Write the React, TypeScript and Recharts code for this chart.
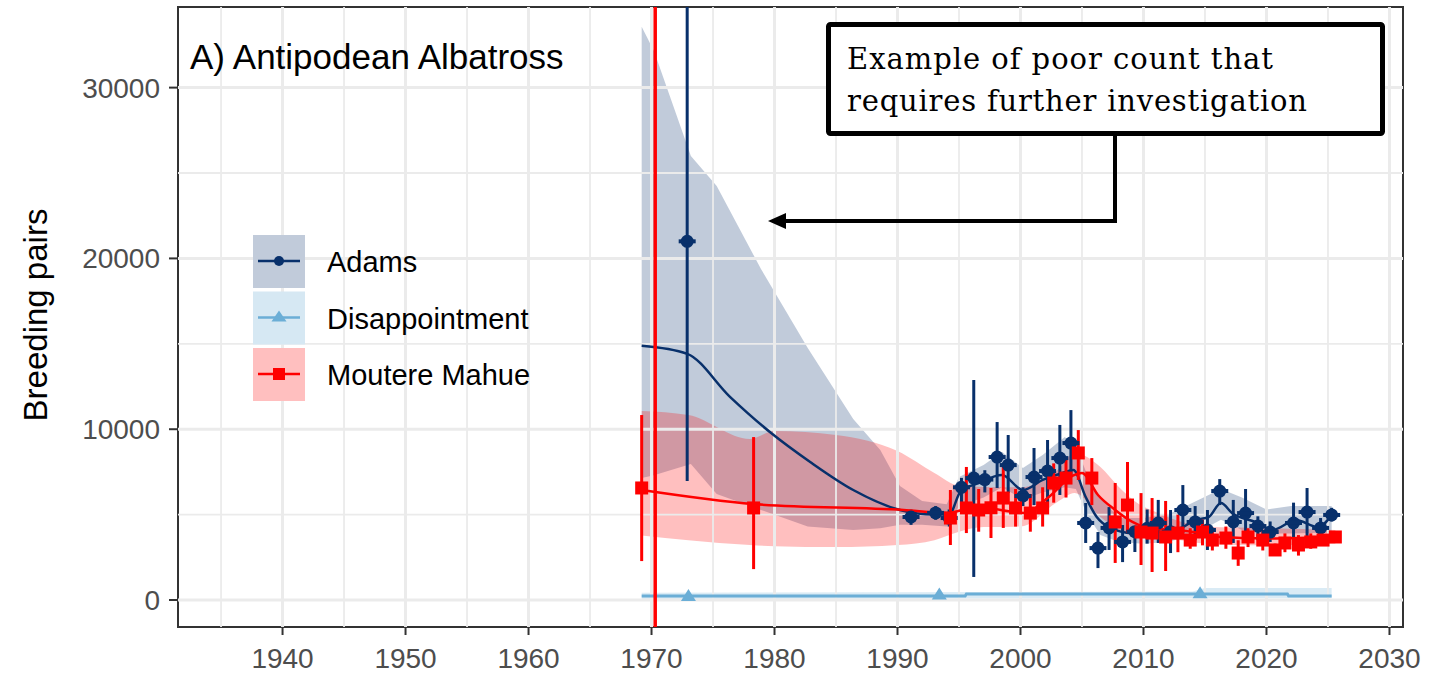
import React from 'react';
import {
  ComposedChart, Area, Line, Scatter, ErrorBar, XAxis, YAxis, ReferenceLine, ReferenceArea,
} from 'recharts';

const NAVY = '#08306b';
const SKY = '#6baed6';
const RED = '#ff0000';

const X_DOMAIN = [1931.5, 2031.1];
const Y_DOMAIN = [-1580, 34720];
const xTicks = [1940, 1950, 1960, 1970, 1980, 1990, 2000, 2010, 2020, 2030];
const xMinor = [1935, 1945, 1955, 1965, 1975, 1985, 1995, 2005, 2015, 2025];
const yTicks = [0, 10000, 20000, 30000];
const yMinor = [5000, 15000, 25000];

// Adams counts (point, lower, upper)
const adamsYears = [1972.9, 1991.1, 1993.1, 1994.2, 1995.2, 1996.2, 1997.1, 1998.1, 1999.0, 2000.2, 2001.1, 2002.2, 2003.2, 2004.1, 2005.3, 2006.3, 2007.2, 2008.3, 2009.3, 2010.3, 2011.2, 2012.2, 2013.2, 2014.2, 2015.2, 2016.2, 2017.3, 2018.3, 2019.3, 2020.3, 2022.2, 2023.3, 2024.4, 2025.3];
const adamsCount = [21000, 4860, 5100, 4800, 6600, 7140, 7050, 8370, 7900, 6090, 7200, 7550, 8310, 9190, 4510, 3040, 4220, 3400, 4000, 4200, 4510, 4000, 5270, 4570, 4100, 6380, 4570, 5090, 4330, 3980, 4510, 5150, 4220, 4980];
const adamsLow = [6970, 4400, 4700, 4300, 5700, 1350, 6300, 6560, 6260, 5500, 5560, 5740, 6150, 7200, 3340, 1870, 2930, 2220, 2810, 3300, 3340, 2750, 3920, 3500, 2930, 5560, 3340, 3510, 3500, 3400, 3400, 3510, 3700, 4600];
const adamsHigh = [34720, 5300, 5500, 5300, 7150, 12880, 7600, 10420, 9660, 6600, 8900, 9370, 10250, 11120, 5680, 3980, 5440, 4390, 4270, 5300, 5860, 5270, 6730, 5500, 5270, 7080, 5860, 6500, 4900, 4600, 5700, 6560, 4800, 5400];

// Adams fitted trend and ribbon
const adamsTrendYears = [1969.2, 1972.9, 1976.4, 1979.7, 1982.9, 1986.4, 1990.2, 1993.0, 1994.2, 1995.1, 1996.6, 1998.5, 2000.2, 2001.8, 2003.4, 2004.3, 2005.3, 2006.2, 2007.2, 2009.1, 2011.2, 2013.2, 2014.2, 2015.3, 2016.3, 2017.2, 2019.1, 2020.5, 2022.4, 2024.2, 2025.3];
const adamsTrend = [14880, 14410, 11880, 9790, 8080, 6440, 5270, 5000, 5000, 6320, 6850, 7320, 6440, 7030, 7440, 7610, 6030, 4860, 4270, 3920, 3980, 4270, 4680, 4860, 5680, 5090, 4570, 4100, 4680, 4270, 4980];
const adamsBandYears = [1969.2, 1970.2, 1973.2, 1975.3, 1978.9, 1982.7, 1986.4, 1988.6, 1990.2, 1992, 1994, 1995, 1997, 1998.5, 2000.2, 2001.8, 2003.6, 2004.5, 2005.5, 2006.5, 2008, 2010, 2012, 2014, 2016.3, 2018, 2020, 2022, 2025.3];
const adamsBandLow = [7140, 7300, 7960, 6200, 5270, 4300, 4100, 4200, 4400, 4400, 4300, 5500, 6000, 6600, 5900, 6300, 6600, 6500, 4900, 3800, 3400, 3300, 3400, 3800, 4700, 4100, 3900, 3900, 3950];
const adamsBandHigh = [33560, 32140, 26000, 24240, 19380, 14750, 10600, 8780, 6670, 5800, 5600, 7200, 7900, 8670, 7730, 8490, 9540, 9000, 7200, 6000, 4800, 4800, 5000, 5700, 6500, 6000, 5300, 5500, 5500];

// Disappointment
const disYears = [1973.0, 1993.4, 2014.6];
const disCount = [230, 330, 390];
const disTrendYears = [1969.2, 1995.5, 1995.6, 2021.7, 2021.8, 2025.3];
const disTrend = [230, 230, 350, 350, 230, 230];
const disBandYears = [1969.2, 2014, 2015, 2025.3];
const disBandLow = [50, 100, 100, 100];
const disBandHigh = [420, 500, 700, 700];

// Moutere Mahue
const mmYears = [1969.2, 1978.3, 1994.3, 1995.6, 1996.6, 1997.6, 1998.6, 1999.6, 2000.8, 2001.8, 2002.7, 2003.7, 2004.7, 2005.8, 2007.7, 2008.7, 2009.8, 2010.7, 2011.8, 2012.8, 2013.8, 2014.8, 2015.6, 2016.7, 2017.7, 2018.5, 2019.7, 2020.7, 2021.5, 2022.6, 2023.6, 2024.6, 2025.6];
const mmCount = [6560, 5390, 4800, 5390, 5270, 5400, 5970, 5390, 5090, 5390, 6850, 7140, 8610, 7140, 4570, 5560, 3980, 3920, 3690, 3920, 3510, 3980, 3510, 3630, 2750, 3690, 3510, 2930, 3340, 3220, 3400, 3510, 3690];
const mmLow = [2280, 1810, 3220, 3920, 4000, 3630, 4220, 4300, 4000, 4300, 5700, 6000, 7030, 5560, 2170, 3920, 2050, 1640, 1700, 2800, 3000, 3200, 2900, 3000, 2000, 3100, 2900, 2600, 2800, 2600, 3000, 3200, 3400];
const mmHigh = [10830, 9540, 6440, 7790, 6500, 6560, 7790, 6500, 6200, 6600, 8000, 8300, 9950, 8310, 6850, 8080, 6260, 5970, 5800, 5000, 4200, 4700, 4200, 4300, 3500, 4200, 4100, 3300, 3900, 3800, 3900, 3800, 3900];
const mmTrendYears = [1969.2, 1978.3, 1990.5, 1994.0, 1996.5, 2000.3, 2002.3, 2004.3, 2005.0, 2006.3, 2007.7, 2009.1, 2010.4, 2012.6, 2013.9, 2016.0, 2020.0, 2025.6];
const mmTrend = [6440, 5620, 5270, 5100, 5440, 5100, 6030, 7300, 7440, 6150, 5270, 4570, 4220, 4100, 4000, 3700, 3600, 3700];
const mmBandYears = [1969.2, 1973, 1978, 1980, 1985, 1990, 1993, 1995, 1997, 2000, 2003, 2004.4, 2006.5, 2008, 2009.5, 2011, 2013, 2015, 2020, 2025.6];
const mmBandLow = [3770, 3500, 3220, 3150, 3100, 3220, 3500, 4000, 4270, 4300, 5740, 6260, 4860, 4100, 3690, 3630, 3500, 3300, 3200, 3300];
const mmBandHigh = [11070, 10830, 9430, 9900, 9660, 8720, 7440, 6700, 6620, 6600, 7610, 8610, 7790, 6620, 5680, 5150, 4600, 4300, 4200, 4100];

const redLineYear = 1970.3;

const points = (ys: number[], v: number[], lo?: number[], hi?: number[]) =>
  ys.map((year, i) => ({ year, v: v[i], err: lo && hi ? [v[i] - lo[i], hi[i] - v[i]] : [0, 0] }));
const trend = (ys: number[], v: number[]) => ys.map((year, i) => ({ year, v: v[i] }));
const band = (ys: number[], lo: number[], hi: number[]) => ys.map((year, i) => ({ year, range: [lo[i], hi[i]] }));

const FONT = '"Liberation Sans", Arial, sans-serif';

const AdamsDot = (p: any) => (
  <g>
    <circle cx={p.cx} cy={p.cy} r={6.5} fill={NAVY} />
    <rect x={p.cx - 8.5} y={p.cy - 2} width={17} height={4} fill={NAVY} />
  </g>
);
const SquareDot = (p: any) => <rect x={p.cx - 6.5} y={p.cy - 6.5} width={13} height={13} fill={RED} />;
const TriDot = (p: any) => (
  <polygon points={`${p.cx},${p.cy - 7} ${p.cx - 7.5},${p.cy + 5} ${p.cx + 7.5},${p.cy + 5}`} fill={SKY} />
);

const legendItems = [
  { name: 'Adams', bg: '#c1cbda', color: NAVY, shape: 'dot' },
  { name: 'Disappointment', bg: '#d6e8f3', color: SKY, shape: 'tri' },
  { name: 'Moutere Mahue', bg: '#ffbfbf', color: RED, shape: 'sq' },
];

export default function App() {
  return (
    <div style={{ position: 'absolute', left: 0, top: 0, width: 1431, height: 673, background: '#fff' }}>
      <ComposedChart width={1431} height={673} margin={{ top: 7, right: 28, left: 0, bottom: 0 }}>
        <XAxis
          dataKey="year" type="number" domain={X_DOMAIN} allowDataOverflow ticks={xTicks}
          height={46} tickSize={8} tickMargin={13}
          axisLine={false} tickLine={{ stroke: '#333', strokeWidth: 2 }}
          tick={{ fill: '#4d4d4d', fontSize: 28, fontFamily: FONT }}
        />
        <YAxis
          type="number" domain={Y_DOMAIN} allowDataOverflow ticks={yTicks} width={178}
          tickSize={9} tickMargin={9} axisLine={false} tickLine={{ stroke: '#333', strokeWidth: 2 }}
          tick={{ fill: '#4d4d4d', fontSize: 28, fontFamily: FONT }}
        />
        {xMinor.map((x) => <ReferenceLine key={'xm' + x} x={x} stroke="#ebebeb" strokeWidth={1.8} />)}
        {yMinor.map((y) => <ReferenceLine key={'ym' + y} y={y} stroke="#ebebeb" strokeWidth={1.8} />)}
        {xTicks.map((x) => <ReferenceLine key={'xM' + x} x={x} stroke="#ebebeb" strokeWidth={3} />)}
        {yTicks.map((y) => <ReferenceLine key={'yM' + y} y={y} stroke="#ebebeb" strokeWidth={3} />)}

        <Area data={band(adamsBandYears, adamsBandLow, adamsBandHigh)} dataKey="range" type="linear"
          fill={NAVY} fillOpacity={0.25} stroke="none" isAnimationActive={false} />
        <Line data={trend(adamsTrendYears, adamsTrend)} dataKey="v" type="monotone" stroke={NAVY}
          strokeWidth={2.5} dot={false} isAnimationActive={false} />
        <Scatter data={points(adamsYears, adamsCount, adamsLow, adamsHigh)} dataKey="v" shape={AdamsDot}
          fill={NAVY} isAnimationActive={false}>
          <ErrorBar dataKey="err" direction="y" width={0} stroke={NAVY} strokeWidth={3} />
        </Scatter>

        <Area data={band(disBandYears, disBandLow, disBandHigh)} dataKey="range" type="linear"
          fill={SKY} fillOpacity={0.25} stroke="none" isAnimationActive={false} />
        <Line data={trend(disTrendYears, disTrend)} dataKey="v" type="linear" stroke={SKY}
          strokeWidth={3} dot={false} isAnimationActive={false} />
        <Scatter data={points(disYears, disCount)} dataKey="v" shape={TriDot} fill={SKY} isAnimationActive={false} />

        <Area data={band(mmBandYears, mmBandLow, mmBandHigh)} dataKey="range" type="monotone"
          fill={RED} fillOpacity={0.25} stroke="none" isAnimationActive={false} />
        <Line data={trend(mmTrendYears, mmTrend)} dataKey="v" type="monotone" stroke={RED}
          strokeWidth={2.5} dot={false} isAnimationActive={false} />
        <Scatter data={points(mmYears, mmCount, mmLow, mmHigh)} dataKey="v" shape={SquareDot}
          fill={RED} isAnimationActive={false}>
          <ErrorBar dataKey="err" direction="y" width={0} stroke={RED} strokeWidth={3} />
        </Scatter>

        <ReferenceLine x={redLineYear} stroke={RED} strokeWidth={3.5} />
        <ReferenceArea x1={X_DOMAIN[0]} x2={X_DOMAIN[1]} y1={Y_DOMAIN[0]} y2={Y_DOMAIN[1]}
          stroke="#333" strokeWidth={2} fill="none" fillOpacity={0} />
      </ComposedChart>

      <svg width={1431} height={673} style={{ position: 'absolute', left: 0, top: 0, pointerEvents: 'none' }}>
        <text x={0} y={0} transform="translate(46.5,315) rotate(-90)" textAnchor="middle"
          fontFamily={FONT} fontSize={33} fill="#000">Breeding pairs</text>
        <text x={190} y={69} fontFamily={FONT} fontSize={35} fill="#000">A) Antipodean Albatross</text>

        {legendItems.map((it, i) => {
          const top = 235 + i * 56.5;
          const cy = top + 26;
          return (
            <g key={it.name}>
              <rect x={253} y={top} width={52} height={53} fill={it.bg} />
              <line x1={258} x2={300} y1={cy} y2={cy} stroke={it.color} strokeWidth={2.5} />
              {it.shape === 'dot' && <circle cx={279} cy={cy} r={5} fill={it.color} />}
              {it.shape === 'tri' && <polygon points={`279,${cy - 7} 271.5,${cy + 4} 286.5,${cy + 4}`} fill={it.color} />}
              {it.shape === 'sq' && <rect x={273} y={cy - 6} width={12} height={12} fill={it.color} />}
              <text x={327} y={cy + 11} fontFamily={FONT} fontSize={29} fill="#000">{it.name}</text>
            </g>
          );
        })}

        <rect x={828.5} y={24.5} width={554} height={109} fill="#fff" stroke="#000" strokeWidth={5} rx={2} />
        <text x={847} y={69} fontFamily='"DejaVu Serif", serif' fontSize={29} fill="#000" textLength={426}>Example of poor count that</text>
        <text x={847} y={111} fontFamily='"DejaVu Serif", serif' fontSize={29} fill="#000" textLength={460}>requires further investigation</text>
        <polyline points="1115,133 1115,221 782,221" fill="none" stroke="#000" strokeWidth={4} />
        <polygon points="768,221 786,213 786,229" fill="#000" />
      </svg>
    </div>
  );
}
